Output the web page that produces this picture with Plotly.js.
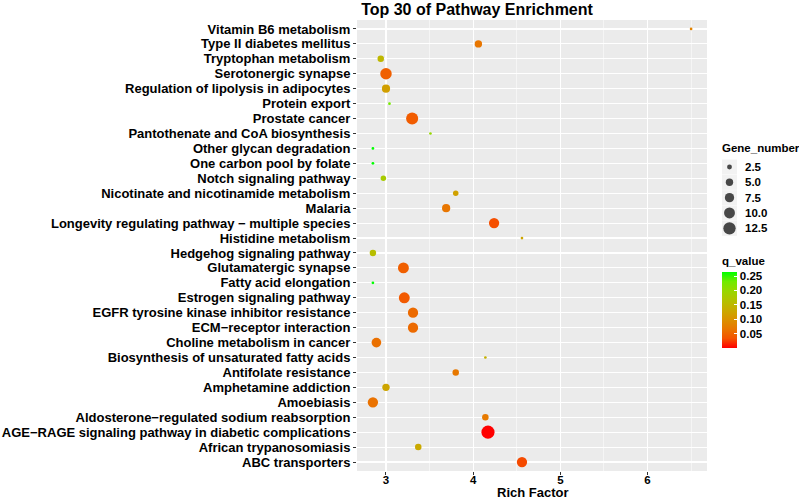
<!DOCTYPE html>
<html>
<head>
<meta charset="utf-8">
<script src="https://cdn.plot.ly/plotly-3.0.1.min.js"></script>
<style>
  html, body { margin: 0; padding: 0; background: #fff; }
  #plot { width: 799px; height: 499px; }
</style>
</head>
<body>
<div id="plot"></div>
<script>
// pathways, top to bottom as they appear on the chart
var pathways = [
  "Vitamin B6 metabolism",
  "Type II diabetes mellitus",
  "Tryptophan metabolism",
  "Serotonergic synapse",
  "Regulation of lipolysis in adipocytes",
  "Protein export",
  "Prostate cancer",
  "Pantothenate and CoA biosynthesis",
  "Other glycan degradation",
  "One carbon pool by folate",
  "Notch signaling pathway",
  "Nicotinate and nicotinamide metabolism",
  "Malaria",
  "Longevity regulating pathway \u2212 multiple species",
  "Histidine metabolism",
  "Hedgehog signaling pathway",
  "Glutamatergic synapse",
  "Fatty acid elongation",
  "Estrogen signaling pathway",
  "EGFR tyrosine kinase inhibitor resistance",
  "ECM\u2212receptor interaction",
  "Choline metabolism in cancer",
  "Biosynthesis of unsaturated fatty acids",
  "Antifolate resistance",
  "Amphetamine addiction",
  "Amoebiasis",
  "Aldosterone\u2212regulated sodium reabsorption",
  "AGE\u2212RAGE signaling pathway in diabetic complications",
  "African trypanosomiasis",
  "ABC transporters"
];

var richFactor = [6.50, 4.06, 2.94, 3.00, 3.00, 3.04, 3.30, 3.51, 2.85, 2.85,
                  2.97, 3.80, 3.69, 4.24, 4.56, 2.85, 3.20, 2.85, 3.21, 3.31,
                  3.31, 2.89, 4.14, 3.80, 3.00, 2.85, 4.14, 4.17, 3.37, 4.56];

var qValue = [0.080, 0.066, 0.150, 0.045, 0.117, 0.228, 0.042, 0.200, 0.265, 0.265,
              0.180, 0.120, 0.066, 0.032, 0.125, 0.160, 0.045, 0.265, 0.040, 0.055,
              0.055, 0.060, 0.140, 0.068, 0.125, 0.062, 0.070, 0.0005, 0.130, 0.030];

var geneNumber = [1, 5, 4, 11, 6, 1, 12, 1, 1, 1,
                  3, 3, 6, 9, 1, 4, 10, 1, 10, 9,
                  9, 8, 1, 4, 5, 9, 4, 14, 4, 9];

var sizeBreaks = [2.5, 5.0, 7.5, 10.0, 12.5];
var sizeLabels = ["2.5", "5.0", "7.5", "10.0", "12.5"];
var qTicks = [0.05, 0.10, 0.15, 0.20, 0.25];
var qTickText = ["0.05", "0.10", "0.15", "0.20", "0.25"];

// point diameter (px) from gene count, same rule for plot and legend
function dotSize(n) {
  return 3.8 * Math.sqrt(n) - 1.1;
}

// red -> green, interpolated in Lab like ggplot's gradient
var redGreen = [
  [0, "rgb(255,0,0)"], [0.125, "rgb(244,83,0)"], [0.25, "rgb(232,119,0)"],
  [0.375, "rgb(218,146,0)"], [0.5, "rgb(201,171,0)"], [0.625, "rgb(179,194,0)"],
  [0.75, "rgb(152,215,0)"], [0.875, "rgb(112,235,0)"], [1, "rgb(0,255,0)"]
];

var W = 799, H = 499;
var L = 357, T = 20, B = 28;
var plotW = W - L;                // plot area runs to the right edge
var panelW = 350;
var panelH = H - T - B;
function px2x(px) { return (px - L) / plotW; }
function px2y(py) { return (H - B - py) / panelH; }

var bold = {family: "Liberation Sans, Arial, sans-serif", weight: 700, color: "#000"};
function f(size, extra) { return Object.assign({}, bold, {size: size}, extra || {}); }

var main = {
  type: "scatter",
  mode: "markers",
  x: richFactor,
  y: pathways,
  xaxis: "x",
  yaxis: "y",
  hoverinfo: "x+y",
  showlegend: false,
  marker: {
    size: geneNumber.map(dotSize),
    sizemode: "diameter",
    color: qValue,
    colorscale: redGreen,
    line: {width: 0},
    opacity: 1,
    colorbar: {
      x: px2x(722), xanchor: "left",
      y: px2y(309.7), yanchor: "middle",
      thickness: 15, thicknessmode: "pixels",
      len: 76, lenmode: "pixels",
      xpad: 0, ypad: 0,
      outlinewidth: 0,
      tickvals: qTicks,
      ticktext: qTickText,
      ticks: "inside",
      ticklen: 3,
      tickcolor: "#fff",
      tickfont: f(11.5)
    }
  }
};

// size legend: grey key squares, then the dots
var keyBg = {
  type: "scatter", mode: "markers",
  x: sizeBreaks.map(function () { return 7.5; }),
  y: sizeBreaks,
  xaxis: "x2", yaxis: "y2",
  hoverinfo: "skip", showlegend: false,
  marker: {symbol: "square", size: 15, color: "#F2F2F2", line: {width: 0}}
};
var keyDots = {
  type: "scatter", mode: "markers",
  x: sizeBreaks.map(function () { return 7.5; }),
  y: sizeBreaks,
  xaxis: "x2", yaxis: "y2",
  hoverinfo: "skip", showlegend: false,
  marker: {size: sizeBreaks.map(dotSize), color: "#000", line: {width: 0}}
};

var pxPerUnit = (228.3 - 167) / 10;
var y2top = 2.5 - (167 - T) / pxPerUnit;
var y2bot = 2.5 + (H - B - 167) / pxPerUnit;

var annotations = sizeBreaks.map(function (v, i) {
  return {xref: "x2", yref: "y2", x: 20.5, y: v, text: sizeLabels[i],
          showarrow: false, xanchor: "left", yanchor: "middle", font: f(11.5)};
});
annotations.push({xref: "paper", yref: "paper", x: px2x(720), y: px2y(148),
  text: "Gene_number", showarrow: false, xanchor: "left", yanchor: "middle", font: f(11.5)});
annotations.push({xref: "paper", yref: "paper", x: px2x(720), y: px2y(261),
  text: "q_value", showarrow: false, xanchor: "left", yanchor: "middle", font: f(11.5)});
annotations.push({xref: "paper", yref: "paper", x: px2x(533), y: px2y(492),
  text: "Rich Factor", showarrow: false, xanchor: "center", yanchor: "middle", font: f(13)});

var layout = {
  width: W, height: H,
  margin: {l: L, r: 0, t: T, b: B, pad: 0},
  paper_bgcolor: "#fff",
  plot_bgcolor: "#fff",
  showlegend: false,
  title: {
    text: "Top 30 of Pathway Enrichment",
    x: 477 / W, xref: "container", xanchor: "center",
    y: 1 - 9 / H, yref: "container", yanchor: "middle",
    font: f(16)
  },
  xaxis: {
    domain: [0, panelW / plotW],
    range: [2.6675, 6.6825],
    dtick: 1, tick0: 0,
    showgrid: true, gridcolor: "#fff", gridwidth: 1.1,
    minor: {dtick: 0.5, tick0: 0, showgrid: true, gridcolor: "#fff", gridwidth: 0.5, ticks: ""},
    zeroline: false, showline: false,
    ticks: "outside", ticklen: 3, tickwidth: 1, tickcolor: "#333",
    tickfont: f(11.5),
    ticklabelstandoff: -5,
    fixedrange: true
  },
  yaxis: {
    domain: [0, 1],
    type: "category",
    categoryorder: "array",
    categoryarray: pathways,
    tickmode: "array",
    tickvals: pathways,
    ticktext: pathways,
    range: [pathways.length - 0.4, -0.6],
    showgrid: true, gridcolor: "#fff", gridwidth: 1.1,
    zeroline: false, showline: false,
    ticks: "outside", ticklen: 3, tickwidth: 1, tickcolor: "#333",
    tickfont: f(13),
    fixedrange: true
  },
  xaxis2: {
    domain: [px2x(722), 1],
    range: [0, W - 722],
    visible: false, fixedrange: true,
    anchor: "y2"
  },
  yaxis2: {
    domain: [0, 1],
    range: [y2bot, y2top],
    visible: false, fixedrange: true,
    anchor: "x2"
  },
  shapes: [{
    type: "rect", xref: "x", yref: "y domain",
    x0: 2.6675, x1: 6.6825, y0: 0, y1: 1,
    fillcolor: "#EBEBEB", line: {width: 0}, layer: "below"
  }],
  annotations: annotations
};

Plotly.newPlot("plot", [main, keyBg, keyDots], layout, {displayModeBar: false, staticPlot: true});
</script>
</body>
</html>
